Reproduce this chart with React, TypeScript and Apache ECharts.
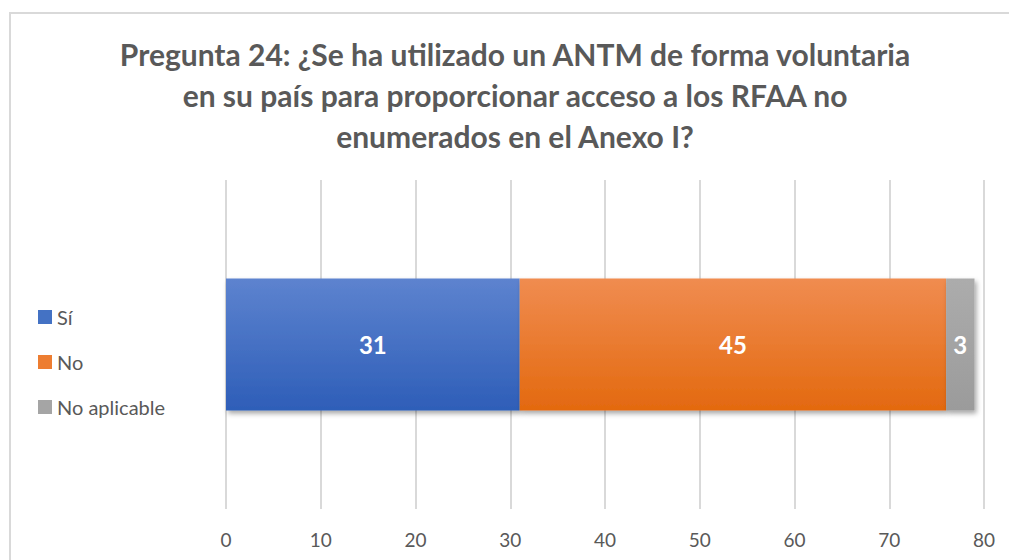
import React, { useEffect, useRef } from "react";
import * as echarts from "echarts";

const titleLines = [
  "Pregunta 24: ¿Se ha utilizado un ANTM de forma voluntaria",
  "en su país para proporcionar acceso a los RFAA no",
  "enumerados en el Anexo I?",
];
const categories = ["Pregunta 24"];
const seriesNames = ["Sí", "No", "No aplicable"];
const siValues = [31];
const noValues = [45];
const naValues = [3];
const xTicks = { min: 0, max: 80, interval: 10 };

const legendColors = ["#4472C4", "#ED7D31", "#A5A5A5"];
const gradients = [
  ["#5d83cf", "#2e5eb8"],
  ["#f08c50", "#e3690f"],
  ["#acacac", "#9b9b9b"],
];

export default function App() {
  const ref = useRef<HTMLDivElement>(null);
  useEffect(() => {
    document.body.style.margin = "0";
    if (!ref.current) return;
    const chart = echarts.init(ref.current, undefined, { renderer: "svg" });
    const font = "Lato, 'Open Sans', sans-serif";
    const values = [siValues, noValues, naValues];
    chart.setOption({
      animation: false,
      backgroundColor: "#ffffff",
      color: legendColors,
      graphic: [
        {
          type: "rect",
          shape: { x: 10, y: 13, width: 1100, height: 600 },
          style: { fill: "none", stroke: "#d9d9d9", lineWidth: 2 },
          silent: true,
          z: -10,
        },
        {
          type: "text",
          x: 515,
          y: 33,
          style: {
            text: titleLines.join("\n"),
            fill: "#595959",
            fontFamily: font,
            fontWeight: "bold",
            fontSize: 30,
            lineHeight: 41,
            textAlign: "center",
            textVerticalAlign: "top",
          },
        },
      ],
      legend: {
        orient: "vertical",
        left: 38,
        top: 307,
        padding: 0,
        itemWidth: 14,
        itemHeight: 14,
        itemGap: 25,
        icon: "rect",
        data: seriesNames.map((n, i) => ({ name: n, itemStyle: { color: legendColors[i] } })),
        textStyle: { color: "#595959", fontSize: 20, fontFamily: font, lineHeight: 20 },
      },
      grid: { left: 226, right: 25, top: 180, bottom: 51 },
      xAxis: {
        type: "value",
        min: xTicks.min,
        max: xTicks.max,
        interval: xTicks.interval,
        axisLine: { show: false },
        axisTick: { show: false },
        axisLabel: { color: "#595959", fontSize: 19, fontFamily: font, margin: 21 },
        splitLine: { show: true, lineStyle: { color: "#d9d9d9", width: 2 } },
      },
      yAxis: {
        type: "category",
        data: categories,
        show: false,
      },
      series: seriesNames.map((name, i) => ({
        name,
        type: "bar",
        stack: "total",
        barWidth: 132,
        data: values[i],
        itemStyle: {
          color: new echarts.graphic.LinearGradient(0, 0, 0, 1, [
            { offset: 0, color: gradients[i][0] },
            { offset: 1, color: gradients[i][1] },
          ]),
          shadowColor: "rgba(0,0,0,0.35)",
          shadowBlur: 5,
          shadowOffsetX: 2,
          shadowOffsetY: 3,
        },
        label: {
          show: true,
          position: "inside",
          color: "#ffffff",
          fontSize: 24,
          fontWeight: "bold",
          fontFamily: font,
        },
      })),
    });
    return () => chart.dispose();
  }, []);
  return <div ref={ref} style={{ width: 1009, height: 560 }} />;
}
